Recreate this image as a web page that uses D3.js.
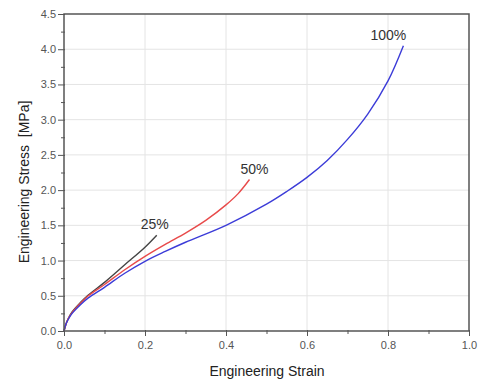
<!DOCTYPE html>
<html>
<head>
<meta charset="utf-8">
<script src="https://cdn.jsdelivr.net/npm/d3@7"></script>
<style>
  body { margin: 0; background: #fff; }
  text { font-family: "Liberation Sans", Arial, sans-serif; }
</style>
</head>
<body>
<div id="chart"></div>
<script>
// Datos
const strain25 = [0, 0.005, 0.01, 0.02, 0.04, 0.06, 0.1, 0.15, 0.2, 0.229];
const stress25 = [0, 0.1, 0.17, 0.27, 0.4, 0.51, 0.69, 0.94, 1.19, 1.36];

const strain50 = [0, 0.005, 0.01, 0.02, 0.04, 0.06, 0.1, 0.15, 0.2, 0.25, 0.3, 0.35, 0.4, 0.43, 0.458];
const stress50 = [0, 0.1, 0.17, 0.26, 0.39, 0.5, 0.66, 0.87, 1.06, 1.23, 1.39, 1.57, 1.79, 1.95, 2.15];

const strain100 = [0, 0.005, 0.01, 0.02, 0.04, 0.06, 0.1, 0.15, 0.2, 0.25, 0.3, 0.4, 0.5, 0.55, 0.6, 0.65, 0.7, 0.75, 0.8, 0.838];
const stress100 = [0, 0.1, 0.16, 0.25, 0.37, 0.47, 0.62, 0.82, 0.99, 1.13, 1.26, 1.5, 1.8, 1.98, 2.18, 2.42, 2.72, 3.08, 3.55, 4.05];

const seriesNames = ["25%", "50%", "100%"];
const seriesColors = ["#444444", "#e84a4a", "#3c3cd8"];

const xTicks = [0, 0.2, 0.4, 0.6, 0.8, 1.0];
const yTicks = [0, 0.5, 1.0, 1.5, 2.0, 2.5, 3.0, 3.5, 4.0, 4.5];

// desplazamiento horizontal de cada etiqueta respecto del final de su curva
const labelDx = [-2, 5, -15];

const WIDTH = 479;
const HEIGHT = 381;
const MARGIN = { top: 14, right: 10, bottom: 50, left: 64 };
const WIDTH_VIS = 469 - MARGIN.left;
const HEIGHT_VIS = 331 - MARGIN.top;

const series = [
    { name: seriesNames[0], color: seriesColors[0], dx: labelDx[0], values: strain25.map((s, i) => [s, stress25[i]]) },
    { name: seriesNames[1], color: seriesColors[1], dx: labelDx[1], values: strain50.map((s, i) => [s, stress50[i]]) },
    { name: seriesNames[2], color: seriesColors[2], dx: labelDx[2], values: strain100.map((s, i) => [s, stress100[i]]) },
];

const svg = d3.select("#chart")
    .append("svg")
    .attr("width", WIDTH)
    .attr("height", HEIGHT);

const g = svg.append("g")
    .attr("transform", `translate(${MARGIN.left}, ${MARGIN.top})`);

const xScale = d3.scaleLinear().domain([0, 1]).range([0, WIDTH_VIS]);
const yScale = d3.scaleLinear().domain([0, 4.5]).range([HEIGHT_VIS, 0]);

// grilla
g.selectAll(".grid-x")
    .data(xTicks.slice(1, -1))
    .join("line")
    .attr("x1", d => xScale(d)).attr("x2", d => xScale(d))
    .attr("y1", 0).attr("y2", HEIGHT_VIS)
    .attr("stroke", "#e4e4e4");

g.selectAll(".grid-y")
    .data(yTicks.slice(1, -1))
    .join("line")
    .attr("y1", d => yScale(d)).attr("y2", d => yScale(d))
    .attr("x1", 0).attr("x2", WIDTH_VIS)
    .attr("stroke", "#e4e4e4");

// ejes
const ejeX = d3.axisBottom(xScale)
    .tickValues(d3.range(0, 1.01, 0.1))
    .tickFormat(d => xTicks.some(t => Math.abs(t - d) < 1e-6) ? d3.format(".1f")(d) : "")
    .tickSize(0)
    .tickPadding(10);

const ejeY = d3.axisLeft(yScale)
    .tickValues(d3.range(0, 4.51, 0.25))
    .tickFormat(d => yTicks.some(t => Math.abs(t - d) < 1e-6) ? d3.format(".1f")(d) : "")
    .tickSize(0)
    .tickPadding(8);

const gx = g.append("g")
    .attr("transform", `translate(0, ${HEIGHT_VIS})`)
    .call(ejeX);
gx.select(".domain").remove();
gx.selectAll(".tick line")
    .attr("y1", -1)
    .attr("y2", (d, i) => i % 2 === 0 ? 5 : 3)
    .attr("stroke", "#555");
gx.selectAll("text").attr("font-size", 11).attr("fill", "#555");

const gy = g.append("g").call(ejeY);
gy.select(".domain").remove();
gy.selectAll(".tick line")
    .attr("x1", 1)
    .attr("x2", (d, i) => i % 2 === 0 ? -6 : -3)
    .attr("stroke", "#555");
gy.selectAll("text").attr("font-size", 11).attr("fill", "#555");

// curvas
const line = d3.line()
    .x(d => xScale(d[0]))
    .y(d => yScale(d[1]))
    .curve(d3.curveCatmullRom.alpha(0.5));

g.selectAll(".curva")
    .data(series)
    .join("path")
    .attr("class", "curva")
    .attr("d", d => line(d.values))
    .attr("fill", "none")
    .attr("stroke", d => d.color)
    .attr("stroke-width", 1.4);

// etiquetas de curvas
g.selectAll(".etiqueta")
    .data(series)
    .join("text")
    .attr("class", "etiqueta")
    .attr("x", d => xScale(d.values[d.values.length - 1][0]) + d.dx)
    .attr("y", d => yScale(d.values[d.values.length - 1][1]) - 6)
    .attr("text-anchor", "middle")
    .attr("font-size", 14)
    .attr("fill", "#333")
    .text(d => d.name);

// marco
g.append("rect")
    .attr("width", WIDTH_VIS)
    .attr("height", HEIGHT_VIS)
    .attr("fill", "none")
    .attr("stroke", "#555")
    .attr("stroke-width", 1.5);

// titulos
svg.append("text")
    .attr("transform", `translate(267, 376)`)
    .attr("text-anchor", "middle")
    .attr("font-size", 14)
    .attr("fill", "#222")
    .text("Engineering Strain");

svg.append("text")
    .attr("transform", `translate(29, 182) rotate(-90)`)
    .attr("text-anchor", "middle")
    .attr("font-size", 14)
    .attr("fill", "#222")
    .style("white-space", "pre")
    .text("Engineering Stress  [MPa]");
</script>
</body>
</html>
